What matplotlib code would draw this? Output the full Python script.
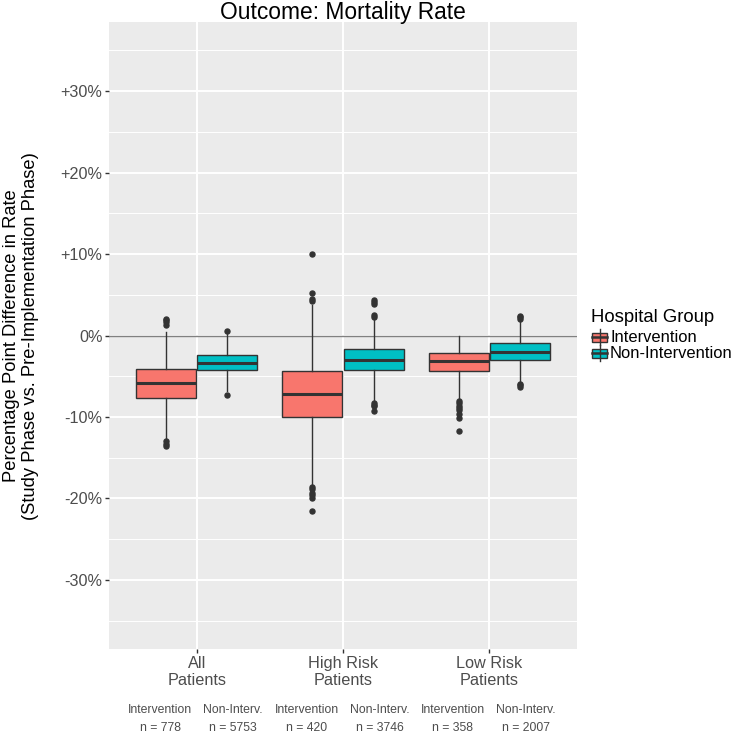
import matplotlib
matplotlib.use("Agg")
import matplotlib.pyplot as plt
from matplotlib.patches import Rectangle
from matplotlib.lines import Line2D
from matplotlib.transforms import blended_transform_factory

plt.rcParams['font.family'] = ['Liberation Sans', 'DejaVu Sans']

# ---------------- data ----------------
categories = ["All\nPatients", "High Risk\nPatients", "Low Risk\nPatients"]
groups = ["Intervention", "Non-Intervention"]
group_short = ["Intervention", "Non-Interv."]
n_counts = [[778, 5753], [420, 3746], [358, 2007]]

yticks = [30, 20, 10, 0, -10, -20, -30]
ytick_labels = ["+30%", "+20%", "+10%", "0%", "-10%", "-20%", "-30%"]

# box statistics (percentage points), [category][group]
q1 = [[-7.62, -4.25], [-9.95, -4.25], [-4.42, -2.95]]
med = [[-5.85, -3.32], [-7.16, -2.95], [-3.11, -1.97]]
q3 = [[-4.09, -2.37], [-4.42, -1.63], [-2.09, -0.98]]
whislo = [[-12.7, -6.8], [-18.2, -8.1], [-7.8, -5.75]]
whishi = [[0.42, 0.35], [3.8, 2.2], [0.0, 1.8]]
fliers = [
    [[1.35, 1.6, 1.85, 2.0, -13.0, -13.3, -13.6], [0.61, -7.25]],
    [[4.2, 4.45, 5.25, 9.95, -18.6, -18.9, -19.3, -19.6, -19.9, -21.5],
     [2.33, 2.54, 3.9, 4.1, 4.3, -8.3, -8.5, -8.7, -9.33]],
    [[-8.0, -8.3, -8.6, -8.9, -9.2, -9.6, -10.1, -11.7], [2.05, 2.25, 2.45, -5.95, -6.1, -6.3]],
]

colors = ["#F8766D", "#00BFC4"]
dark = "#333333"
grey_txt = "#4D4D4D"

# ---------------- figure ----------------
W = H = 750
fig = plt.figure(figsize=(7.5, 7.5), dpi=100)


def fx(px):
    return px / W


def fy(py):
    return 1 - py / H


ax = fig.add_axes([fx(109), fy(649), (577 - 109) / W, (649 - 22) / H])
ax.set_facecolor("#EBEBEB")
for s in ax.spines.values():
    s.set_visible(False)

ax.set_xlim(0.4, 3.6)
ax.set_ylim(-38.5, 38.5)
ax.set_xticks([1, 2, 3])
ax.set_xticklabels(categories)
ax.set_yticks(yticks)
ax.set_yticklabels(ytick_labels)
ax.set_yticks([35, 25, 15, 5, -5, -15, -25, -35], minor=True)
ax.grid(which="major", color="white", linewidth=1.4)
ax.grid(which="minor", axis="y", color="white", linewidth=0.7)
ax.set_axisbelow(True)
ax.tick_params(axis="both", which="major", length=3.2, width=1.0, color=dark,
               labelcolor=grey_txt, labelsize=11.7, pad=1.5)
ax.tick_params(axis="both", which="minor", length=0)

ax.axhline(0, color="#808080", linewidth=1.0, zorder=1.5)

offsets = [-0.21, 0.21]
for gi in range(2):
    stats = []
    for ci in range(3):
        stats.append(dict(med=med[ci][gi], q1=q1[ci][gi], q3=q3[ci][gi],
                          whislo=whislo[ci][gi], whishi=whishi[ci][gi],
                          fliers=fliers[ci][gi]))
    ax.bxp(stats, positions=[c + 1 + offsets[gi] for c in range(3)], widths=0.41,
           patch_artist=True, showcaps=False, manage_ticks=False,
           boxprops=dict(facecolor=colors[gi], edgecolor=dark, linewidth=1.0),
           medianprops=dict(color=dark, linewidth=2.2),
           whiskerprops=dict(color=dark, linewidth=1.0),
           flierprops=dict(marker="o", markerfacecolor=dark, markeredgecolor=dark,
                           markersize=3.6, linestyle="none"),
           zorder=3)

# title
fig.text(fx(343), fy(13), "Outcome: Mortality Rate", ha="center", va="center",
         fontsize=16.4, color="black")

# y label
fig.text(fx(21), fy(336),
         "Percentage Point Difference in Rate\n(Study Phase vs. Pre-Implementation Phase)",
         rotation=90, ha="center", va="center", fontsize=13.2, color="black",
         linespacing=1.15)

# n labels below
trans = blended_transform_factory(ax.transData, fig.transFigure)
for ci in range(3):
    for gi in range(2):
        ax.text(ci + 1 + (-0.25 if gi == 0 else 0.25), fy(719),
                f"{group_short[gi]}\nn = {n_counts[ci][gi]}",
                transform=trans, ha="center", va="center", fontsize=8.8,
                color=grey_txt, linespacing=1.6, clip_on=False)

# legend (manual, ggplot style)
fig.text(fx(591), fy(317), "Hospital Group", ha="left", va="center",
         fontsize=13.3, color="black")
for gi, yc in enumerate([337, 353]):
    cx = 599.5
    fig.add_artist(Line2D([fx(cx), fx(cx)], [fy(yc - 8), fy(yc + 8)],
                          color=dark, linewidth=1.0, transform=fig.transFigure))
    fig.add_artist(Rectangle((fx(592), fy(yc + 4.5)), 15 / W, 9 / H,
                             facecolor=colors[gi], edgecolor=dark, linewidth=1.0,
                             transform=fig.transFigure))
    fig.add_artist(Line2D([fx(592), fx(607)], [fy(yc), fy(yc)],
                          color=dark, linewidth=1.8, transform=fig.transFigure))
    fig.text(fx(610), fy(yc), groups[gi], ha="left", va="center",
             fontsize=11.9, color="black")

fig.savefig("out.png", dpi=100)
